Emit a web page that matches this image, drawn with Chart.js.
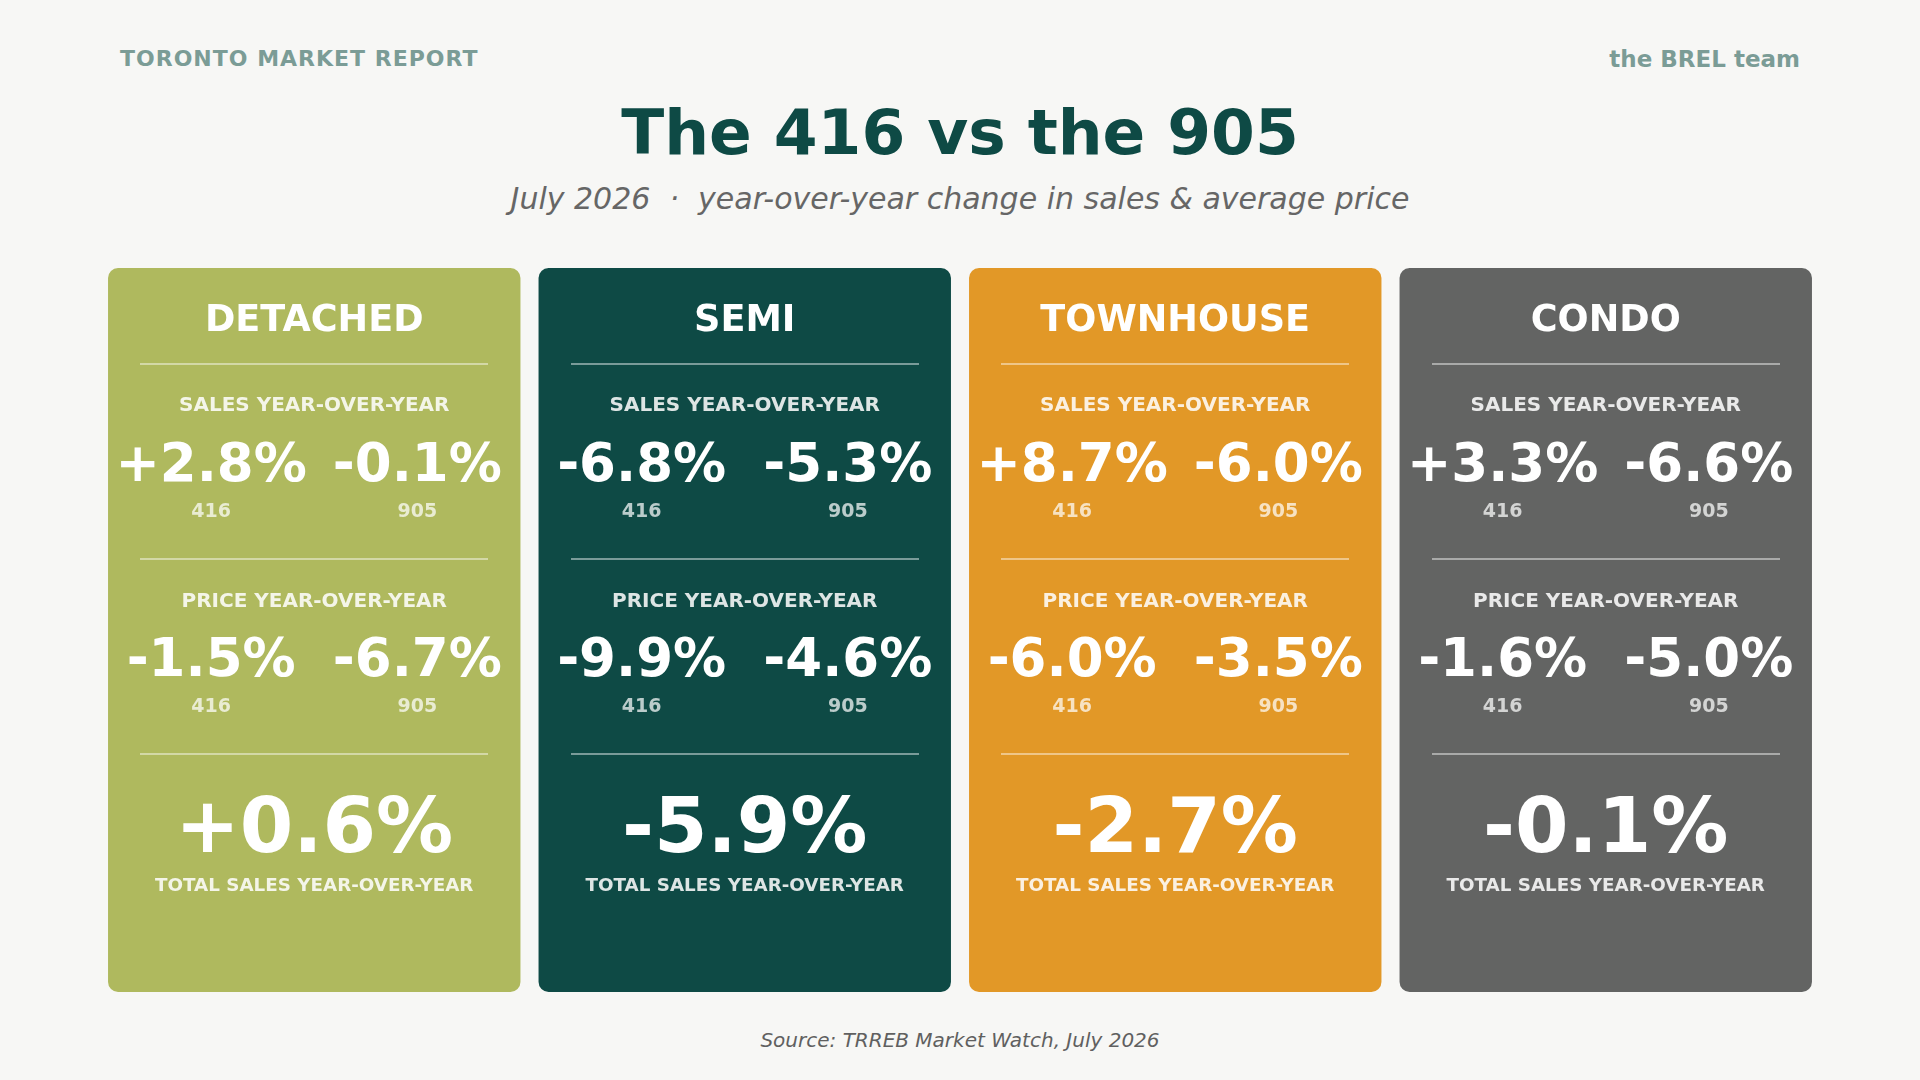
<!DOCTYPE html>
<html>
<head>
<meta charset="utf-8">
<title>The 416 vs the 905</title>
<script src="https://cdn.jsdelivr.net/npm/chart.js@4.4.1/dist/chart.umd.min.js"></script>
<style>
html, body { margin: 0; padding: 0; background: #f7f7f5; }
#page { position: relative; width: 1920px; height: 1080px; overflow: hidden; font-family: "DejaVu Sans", sans-serif; }
.t { position: absolute; line-height: 1; white-space: pre; transform: translateY(-50%); }
.c { left: 0; width: 100%; text-align: center; }
.l { left: 0; width: 50%; text-align: center; }
.r { left: 50%; width: 50%; text-align: center; }
#cards { position: absolute; left: 99px; top: 268px; }
.card { position: absolute; color: #fff; }
.rule { position: absolute; left: 32px; right: 32px; height: 1.5px; background: rgba(255,255,255,0.45); }
.head { font-weight: bold; font-size: 22px; color: #7b9c96; top: 59px; }
</style>
</head>
<body>
<div id="page">
  <div class="t head" style="left:120px;letter-spacing:1px;">TORONTO MARKET REPORT</div>
  <div class="t head" style="right:120px;font-size:23px;">the BREL team</div>
  <div class="t c" style="top:132px;font-size:63px;font-weight:bold;color:#0e4a45;">The 416 vs the 905</div>
  <div class="t c" style="top:199px;font-size:30px;font-style:italic;color:#666;">July 2026  ·  year-over-year change in sales &amp; average price</div>
  <canvas id="cards" width="1722" height="724"></canvas>
  <div id="overlay"></div>
  <div class="t c" style="top:1040px;font-size:20px;font-style:italic;color:#606060;">Source: TRREB Market Watch, July 2026</div>
</div>
<script>
// Data (% change year-over-year, July 2026)
const categories = ['DETACHED', 'SEMI', 'TOWNHOUSE', 'CONDO'];
const sales416 = [2.8, -6.8, 8.7, 3.3];
const sales905 = [-0.1, -5.3, -6.0, -6.6];
const price416 = [-1.5, -9.9, -6.0, -1.6];
const price905 = [-6.7, -4.6, -3.5, -5.0];
const totalSales = [0.6, -5.9, -2.7, -0.1];
const regions = ['416', '905'];

// Card colours
const cardColors = ['#afb95e', '#0e4a45', '#e29827', '#636463'];

const canvasEl = document.getElementById('cards');
const overlayEl = document.getElementById('overlay');
let cardEls = [];

function fmt(v) {
    return (v > 0 ? '+' : '') + v.toFixed(1) + '%';
}

function txt(parent, cls, top, style, text) {
    const d = document.createElement('div');
    d.className = 't ' + cls;
    d.style.top = top + 'px';
    d.style.cssText += style;
    d.textContent = text;
    parent.appendChild(d);
}

function rule(parent, top) {
    const d = document.createElement('div');
    d.className = 'rule';
    d.style.top = top + 'px';
    parent.appendChild(d);
}

function buildCard(i) {
    const el = document.createElement('div');
    el.className = 'card';
    const lab = 'font-size:20px;font-weight:bold;color:rgba(255,255,255,0.86);';
    const big = 'font-size:53px;font-weight:bold;';
    const reg = 'font-size:19px;font-weight:bold;color:rgba(255,255,255,0.72);';
    txt(el, 'c', 50.5, 'font-size:36.6px;font-weight:bold;', categories[i]);
    rule(el, 95);
    txt(el, 'c', 135.5, lab, 'SALES YEAR-OVER-YEAR');
    txt(el, 'l', 193.5, big, fmt(sales416[i]));
    txt(el, 'r', 193.5, big, fmt(sales905[i]));
    txt(el, 'l', 241.5, reg, regions[0]);
    txt(el, 'r', 241.5, reg, regions[1]);
    rule(el, 290);
    txt(el, 'c', 331.5, lab, 'PRICE YEAR-OVER-YEAR');
    txt(el, 'l', 388.5, big, fmt(price416[i]));
    txt(el, 'r', 388.5, big, fmt(price905[i]));
    txt(el, 'l', 436.5, reg, regions[0]);
    txt(el, 'r', 436.5, reg, regions[1]);
    rule(el, 485);
    txt(el, 'c', 556.5, 'font-size:77px;font-weight:bold;', fmt(totalSales[i]));
    txt(el, 'c', 616.5, 'font-size:18.3px;font-weight:bold;color:rgba(255,255,255,0.86);', 'TOTAL SALES YEAR-OVER-YEAR');
    overlayEl.appendChild(el);
    return el;
}

// place the card texts over the bars drawn by the chart
const cardText = {
    id: 'cardText',
    afterDraw(chart) {
        const meta = chart.getDatasetMeta(0);
        const left = canvasEl.offsetLeft, top = canvasEl.offsetTop;
        meta.data.forEach((bar, i) => {
            if (!cardEls[i]) cardEls[i] = buildCard(i);
            const p = bar.getProps(['x', 'y', 'base', 'width'], true);
            const el = cardEls[i];
            el.style.left = (left + p.x - p.width / 2) + 'px';
            el.style.top = (top + Math.min(p.y, p.base)) + 'px';
            el.style.width = p.width + 'px';
            el.style.height = Math.abs(p.base - p.y) + 'px';
        });
    }
};

new Chart(canvasEl, {
    type: 'bar',
    data: {
        labels: categories,
        datasets: [{
            data: categories.map(() => [0, 1]),
            backgroundColor: cardColors,
            borderRadius: 10,
            borderSkipped: false,
            barPercentage: 1,
            categoryPercentage: 0.958
        }]
    },
    options: {
        responsive: false,
        animation: false,
        devicePixelRatio: 1,
        layout: { padding: 0 },
        plugins: { legend: { display: false }, tooltip: { enabled: false }, title: { display: false } },
        scales: {
            x: { display: false },
            y: { display: false, min: 0, max: 1 }
        }
    },
    plugins: [cardText]
});
</script>
</body>
</html>
